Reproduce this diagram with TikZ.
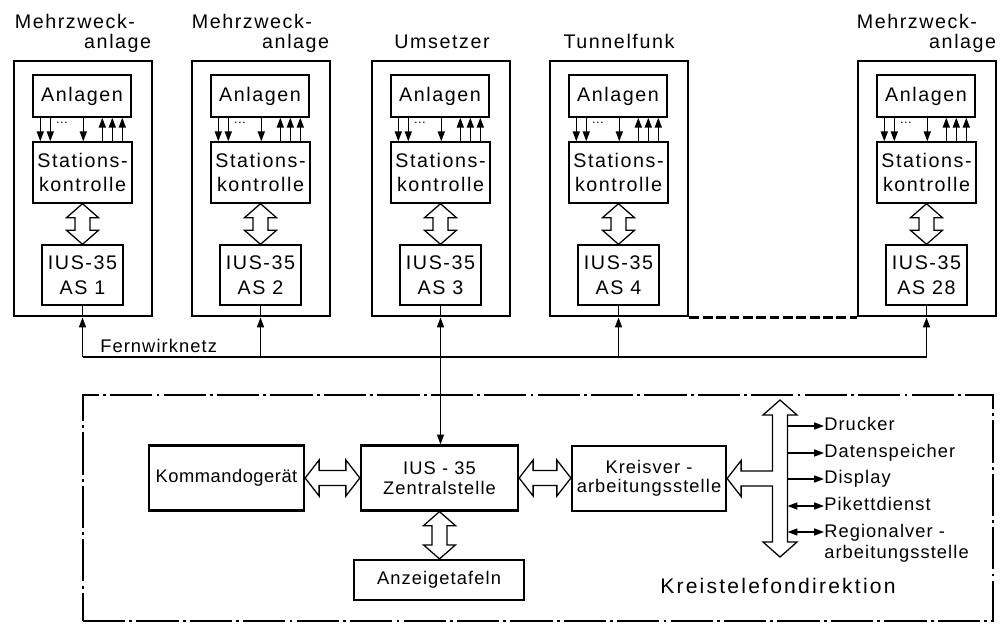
\documentclass[tikz,border=0pt]{standalone}
\usepackage{fontspec}
\setmainfont{Liberation Sans}
\newfontfamily\stfont{Liberation Sans}[LetterSpace=8]
\newfontfamily\lofont{Liberation Sans}[LetterSpace=6]
\newfontfamily\kofont{Liberation Sans}[LetterSpace=3]
\newfontfamily\ktfont{Liberation Sans}[LetterSpace=10.5]
\usetikzlibrary{arrows.meta,positioning}
\usetikzlibrary{calc}

% hollow double arrows between two nodes
\newcommand{\fatarrowv}[2]{%
  \draw[hollowarrow] (#1) -- ($(#1)+(16,14)$) -- ($(#1)+(7.5,14)$)
    -- ($(#1 |- #2)+(7.5,-14)$) -- ($(#1 |- #2)+(16,-14)$) -- (#1 |- #2)
    -- ($(#1 |- #2)+(-16,-14)$) -- ($(#1 |- #2)+(-7.5,-14)$)
    -- ($(#1)+(-7.5,14)$) -- ($(#1)+(-16,14)$) -- cycle;}
\newcommand{\fatarrowh}[2]{%
  \draw[hollowarrow] (#1) -- ($(#1)+(14,-18)$) -- ($(#1)+(14,-7.5)$)
    -- ($(#1 -| #2)+(-14,-7.5)$) -- ($(#1 -| #2)+(-14,-18)$) -- (#1 -| #2)
    -- ($(#1 -| #2)+(-14,18)$) -- ($(#1 -| #2)+(-14,7.5)$)
    -- ($(#1)+(14,7.5)$) -- ($(#1)+(14,18)$) -- cycle;}

\begin{document}
\begin{tikzpicture}[x=0.25mm,y=-0.25mm,
  every node/.style={inner sep=0pt},
  station/.style={draw,line width=2.1pt,minimum width=34.5mm,minimum height=63.75mm},
  unitbox/.style={draw,line width=1pt,align=center,font=\stfont\fontsize{14}{17}\selectfont},
  mainbox/.style={draw,line width=1.6pt,align=center,minimum height=16.25mm,font=\lofont\fontsize{13}{15}\selectfont},
  title/.style={font=\stfont\fontsize{14}{17}\selectfont},
  label/.style={anchor=west,font=\lofont\fontsize{13}{15}\selectfont,text height=9.5pt,text depth=2.5pt},
  thinline/.style={line width=0.9pt},
  hollowarrow/.style={line width=0.9pt,fill=white,line join=miter},
  sarrow/.style={-{Triangle[length=7pt,width=5pt]}},
  dsarrow/.style={{Triangle[length=7pt,width=5pt]}-{Triangle[length=7pt,width=5pt]}}]
\useasboundingbox (0,0) rectangle (1007,623);

% Stationen
\foreach \i/\xo in {1/14,2/192,3/372,4/550,28/858}{
  \node[station] (st\i) at (\xo+69,188.5) {};
  \node[unitbox,minimum width=24.5mm,minimum height=10.5mm] (anl\i) at (\xo+68,96) {Anlagen};
  \node[unitbox,minimum width=24.75mm,minimum height=15.25mm] (stk\i) at (\xo+68.5,172.5) {Stations-\\kontrolle};
  \node[unitbox,minimum width=20.25mm,minimum height=15mm,font=\stfont\fontsize{14}{18}\selectfont] (ius\i) at (\xo+68.5,275) {IUS-35\\AS \i};
  \node[font=\fontsize{9}{9}\selectfont] (dots\i) at (\xo+48,123) {\dots};
  \foreach \dx in {8,18,51}
    \draw[thinline,sarrow] ($(anl\i.south west)+(\dx,0)$) -- ($(anl\i.south west |- stk\i.north)+(\dx,0)$);
  \foreach \dx in {70,80,90}
    \draw[thinline,sarrow] ($(anl\i.south west |- stk\i.north)+(\dx,0)$) -- ($(anl\i.south west)+(\dx,0)$);
  \fatarrowv{stk\i.south}{ius\i.north}
  \draw[thinline] (ius\i.south) -- (st\i.south -| ius\i.south);
  \coordinate (fw\i) at (ius\i.south |- 0,357);
}

% Titel
\node[title,anchor=base west] (t1a) at ($(st1.north west)+(2,-31)$) {Mehrzweck-};
\node[title,anchor=base east] (t1b) at ($(st1.north east)+(-2,-11)$) {anlage};
\node[title,anchor=base west] (t2a) at ($(st2.north west)+(1,-31)$) {Mehrzweck-};
\node[title,anchor=base east] (t2b) at ($(st2.north east)+(-2,-11)$) {anlage};
\node[title,anchor=base] (t3) at ($(st3.north)+(1,-11)$) {Umsetzer};
\node[title,anchor=base] (t4) at ($(st4.north)+(0,-11)$) {Tunnelfunk};
\node[title,anchor=base west] (t28a) at ($(st28.north west)+(0,-31)$) {Mehrzweck-};
\node[title,anchor=base east] (t28b) at ($(st28.north east)+(-1,-11)$) {anlage};

\draw[line width=2pt,dash pattern=on 7pt off 2.5pt] (st4.south east) -- (st28.south west);

% Fernwirknetz
\draw[thinline] (fw1) -- (fw28);
\foreach \i in {1,2,4,28}
  \draw[thinline,sarrow] (fw\i) -- (st\i.south -| ius\i.south);
\node[label,anchor=base west] (fwtext) at (100,352) {Fernwirknetz};

% Kreistelefondirektion
\node[draw,line width=0.9pt,dash pattern=on 30pt off 3pt on 2pt off 3pt,
  minimum width=227.5mm,minimum height=56.5mm] (ktd) at (538,508) {};
\node[mainbox,minimum width=38.75mm,font=\kofont\fontsize{13}{15}\selectfont] (komm) at (226.5,478) {Kommandoger\"at};
\node[mainbox,minimum width=39.25mm,font=\lofont\fontsize{13}{14.5}\selectfont] (zs) at (439.5,478) {IUS - 35\\Zentralstelle};
\node[mainbox,minimum width=38.5mm,font=\lofont\fontsize{13}{13.5}\selectfont] (kva) at (649,478.5) {Kreisver -\\arbeitungsstelle};
\node[mainbox,minimum width=42.5mm,minimum height=10mm] (anz) at (439,580) {Anzeigetafeln};

\draw[thinline,dsarrow] (st3.south -| ius3.south) -- (ius3.south |- zs.north);
\fatarrowh{komm.east}{zs.west}
\fatarrowh{zs.east}{kva.west}
\fatarrowv{zs.south}{anz.north}

% Bus
\coordinate (bustop) at (780,400);
\coordinate (busbot) at (780,557);
\coordinate (busL) at (772.5,480);
\coordinate (busR) at (787.5,480);
\draw[hollowarrow] (bustop) -- ($(bustop)+(17,15)$) -- ($(bustop)+(7.5,15)$)
  -- ($(busbot)+(7.5,-15)$) -- ($(busbot)+(17,-15)$) -- (busbot)
  -- ($(busbot)+(-17,-15)$) -- ($(busbot)+(-7.5,-15)$)
  -- ($(busL |- kva.east)+(0,7.5)$) -- ($(kva.east)+(14,7.5)$) -- ($(kva.east)+(14,18)$)
  -- (kva.east) -- ($(kva.east)+(14,-18)$) -- ($(kva.east)+(14,-7.5)$)
  -- ($(busL |- kva.east)+(0,-7.5)$) -- ($(bustop)+(-7.5,15)$) -- ($(bustop)+(-17,15)$) -- cycle;

\node[label] (druck) at (824,426) {Drucker};
\node[label] (dsp) at (824,453) {Datenspeicher};
\node[label] (disp) at (824,479) {Display};
\node[label] (pik) at (824,506) {Pikettdienst};
\node[label,anchor=north west,align=left,text height=,text depth=,font=\lofont\fontsize{13}{15}\selectfont] (regio) at (824,524) {Regionalver -\\arbeitungsstelle};

\draw[thinline,sarrow] (busR |- druck.west) -- (druck.west);
\draw[thinline,sarrow] (busR |- dsp.west) -- (dsp.west);
\draw[thinline,sarrow] (busR |- disp.west) -- (disp.west);
\draw[thinline,dsarrow] (busR |- pik.west) -- (pik.west);
\draw[thinline,dsarrow] (busR |- regio.north west) ++(0,8) -- ($(regio.north west)+(0,8)$);

\node[anchor=base west,font=\ktfont\fontsize{15}{18}\selectfont] (kttext) at (660,593) {Kreistelefondirektion};
\end{tikzpicture}
\end{document}
